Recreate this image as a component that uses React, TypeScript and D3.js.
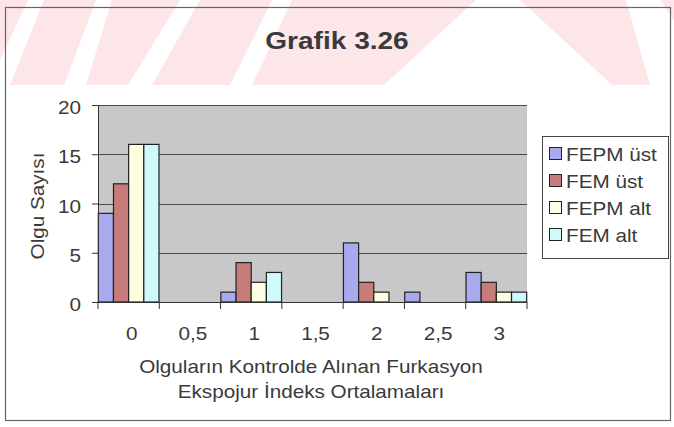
import * as d3 from 'd3';
import React, { useRef, useEffect } from 'react';

const categories = ['0', '0,5', '1', '1,5', '2', '2,5', '3'];
const seriesNames = ['FEPM üst', 'FEM üst', 'FEPM alt', 'FEM alt'];
const fepmUst = [9, 0, 1, 0, 6, 1, 3];
const femUst = [12, 0, 4, 0, 2, 0, 2];
const fepmAlt = [16, 0, 2, 0, 1, 0, 1];
const femAlt = [16, 0, 3, 0, 0, 0, 1];
const yTicks = [0, 5, 10, 15, 20];

const colors = ['#a7aaee', '#c67c7a', '#fdfde2', '#cdfbfb'];

const W = 674;
const H = 427;
const font = '"Liberation Sans", Arial, sans-serif';
const textColor = '#3a3a3a';
const sx = 1.15; // scanned text looks a bit stretched sideways

export default function App() {
  const ref = useRef<SVGSVGElement>(null);

  useEffect(() => {
    const svg = d3.select(ref.current);
    svg.selectAll('*').remove();

    const values = [fepmUst, femUst, fepmAlt, femAlt];

    // draws a text stretched horizontally, like the scan
    const label = (parent, x, y, s, size, anchor = 'start', stretch = sx, rotate = 0) =>
      parent
        .append('text')
        .attr('transform', `translate(${x},${y}) rotate(${rotate}) scale(${stretch},1)`)
        .attr('text-anchor', anchor)
        .attr('font-family', font)
        .attr('font-size', size)
        .attr('fill', textColor)
        .text(s);

    // scanned watermark band at top
    svg.append('rect').attr('x', 0).attr('y', 0).attr('width', W).attr('height', 85).attr('fill', '#fce6e8');
    const white = [
      [[28, 0], [44, 0], [10, 85], [0, 85], [0, 60]],
      [[96, 0], [112, 0], [86, 85], [64, 85]],
      [[180, 0], [200, 0], [152, 85], [128, 85]],
      [[272, 0], [292, 0], [252, 85], [230, 85]],
      [[476, 0], [520, 0], [612, 85], [384, 85]],
      [[626, 0], [660, 0], [674, 20], [674, 85], [650, 85]],
    ];
    svg
      .selectAll('polygon.wm')
      .data(white)
      .enter()
      .append('polygon')
      .attr('points', (d) => d.map((p) => p.join(',')).join(' '))
      .attr('fill', '#ffffff');

    // chart outer border
    svg
      .append('rect')
      .attr('x', 5.5)
      .attr('y', 7.5)
      .attr('width', 665)
      .attr('height', 413)
      .attr('fill', 'none')
      .attr('stroke', '#666')
      .attr('stroke-width', 1.2);

    svg
      .append('text')
      .attr('transform', 'translate(337,49) scale(1.22,1)')
      .attr('text-anchor', 'middle')
      .attr('font-family', font)
      .attr('font-weight', 'bold')
      .attr('font-size', 23)
      .attr('fill', textColor)
      .text('Grafik 3.26');

    const left = 98;
    const right = 527;
    const top = 105;
    const bottom = 302;

    const x = d3.scaleBand().domain(categories).range([left, right]).paddingInner(0).paddingOuter(0);
    const xInner = d3
      .scaleBand()
      .domain(seriesNames)
      .range([0, x.bandwidth()])
      .paddingOuter(0.02)
      .paddingInner(0);
    const y = d3.scaleLinear().domain([0, 20]).range([bottom, top]);

    svg
      .append('rect')
      .attr('x', left)
      .attr('y', top)
      .attr('width', right - left)
      .attr('height', bottom - top)
      .attr('fill', '#c8c7c9');

    svg
      .selectAll('line.grid')
      .data(yTicks.slice(1))
      .enter()
      .append('line')
      .attr('x1', left)
      .attr('x2', right)
      .attr('y1', (d) => Math.round(y(d)) + 0.5)
      .attr('y2', (d) => Math.round(y(d)) + 0.5)
      .attr('stroke', '#4a4a4a')
      .attr('stroke-width', 1);

    // bars
    const g = svg.append('g');
    seriesNames.forEach((name, si) => {
      g.selectAll(`rect.s${si}`)
        .data(values[si].map((v, i) => ({ v, c: categories[i] })).filter((d) => d.v > 0))
        .enter()
        .append('rect')
        .attr('x', (d) => (x(d.c) as number) + (xInner(name) as number))
        .attr('y', (d) => y(d.v))
        .attr('width', xInner.bandwidth())
        .attr('height', (d) => y(0) - y(d.v))
        .attr('fill', colors[si])
        .attr('stroke', '#222')
        .attr('stroke-width', 1.2);
    });

    // y axis
    const yAxis = d3.axisLeft(y).tickValues(yTicks).tickSize(6).tickFormat(() => '');
    const ya = svg.append('g').attr('transform', `translate(${left},0)`).call(yAxis);
    ya.select('.domain').attr('stroke', '#333');
    ya.selectAll('line').attr('stroke', '#333');
    yTicks.forEach((t) => label(svg, 81, y(t) + 9, String(t), 18, 'end'));

    // x axis
    const xa = svg.append('g').attr('transform', `translate(0,${bottom})`);
    xa.append('line').attr('x1', left).attr('x2', right).attr('y1', 0.5).attr('y2', 0.5).attr('stroke', '#333');
    const bounds = categories.map((c) => x(c) as number).concat([right]);
    xa.selectAll('line.tick')
      .data(bounds)
      .enter()
      .append('line')
      .attr('x1', (d) => d)
      .attr('x2', (d) => d)
      .attr('y1', 0)
      .attr('y2', 7)
      .attr('stroke', '#333');
    categories.forEach((c) => label(svg, (x(c) as number) + x.bandwidth() / 2 + 3, bottom + 38, c, 18, 'middle'));

    // axis titles
    label(svg, 44, 206, 'Olgu Sayısı', 18, 'middle', sx, -90);

    const xTitle = ['Olguların Kontrolde Alınan Furkasyon', 'Ekspojur İndeks Ortalamaları'];
    xTitle.forEach((s, i) => label(svg, 311, 373 + i * 25, s, 18, 'middle'));

    // legend
    const lg = svg.append('g');
    lg.append('rect')
      .attr('x', 542.5)
      .attr('y', 136.5)
      .attr('width', 126)
      .attr('height', 122)
      .attr('fill', '#fff')
      .attr('stroke', '#444');
    seriesNames.forEach((name, i) => {
      const cy = 154 + i * 27;
      lg.append('rect')
        .attr('x', 549.5)
        .attr('y', cy - 6.5)
        .attr('width', 12)
        .attr('height', 12)
        .attr('fill', colors[i])
        .attr('stroke', '#222');
      label(lg, 566, cy + 6.5, name, 18, 'start');
    });
  }, []);

  return (
    <svg
      ref={ref}
      width={W}
      height={H}
      style={{ display: 'block', position: 'absolute', left: 0, top: 0 }}
    />
  );
}
